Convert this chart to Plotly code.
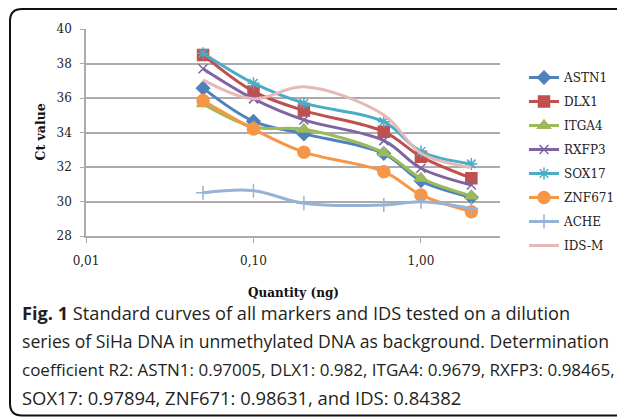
import plotly.graph_objects as go

quantity = [0.05, 0.1, 0.2, 0.6, 1.0, 2.0]
astn1 = [36.57, 34.65, 33.92, 32.78, 31.20, 30.25]
dlx1 = [38.50, 36.38, 35.27, 34.05, 32.60, 31.35]
itga4 = [35.66, 34.32, 34.19, 32.83, 31.35, 30.32]
rxfp3 = [37.70, 35.95, 34.73, 33.53, 31.93, 30.96]
sox17 = [38.60, 36.86, 35.70, 34.63, 32.90, 32.18]
znf671 = [35.85, 34.20, 32.86, 31.73, 30.38, 29.41]
ache = [30.51, 30.63, 29.90, 29.80, 29.99, 29.60]
ids_m = [37.05, 35.95, 36.65, 35.02, 32.80, 31.98]

series_names = ["ASTN1", "DLX1", "ITGA4", "RXFP3", "SOX17", "ZNF671", "ACHE", "IDS-M"]
series_values = [astn1, dlx1, itga4, rxfp3, sox17, znf671, ache, ids_m]

x_tick_vals = [0.01, 0.1, 1.0]
x_tick_text = ["0,01", "0,10", "1,00"]
y_tick_vals = [28, 30, 32, 34, 36, 38, 40]

caption_lines = [
    "<b>Fig. 1</b> Standard curves of all markers and IDS tested on a dilution",
    "series of SiHa DNA in unmethylated DNA as background. Determination",
    "coefficient R2: ASTN1: 0.97005, DLX1: 0.982, ITGA4: 0.9679, RXFP3: 0.98465,",
    "SOX17: 0.97894, ZNF671: 0.98631, and IDS: 0.84382",
]

styles = [
    dict(color="#4F81BD", symbol="diamond", size=10),
    dict(color="#C0504D", symbol="square", size=11),
    dict(color="#9BBB59", symbol="triangle-up", size=11),
    dict(color="#8064A2", symbol="x-thin", size=9),
    dict(color="#4BACC6", symbol="asterisk", size=10),
    dict(color="#F79646", symbol="circle", size=12),
    dict(color="#95B3D7", symbol="cross-thin", size=10),
    dict(color="#E6B9B8", symbol=None, size=0),
]

# the page places the figure at (8, 8); all layout targets below are page pixels
OFF = 8
W, H = 625, 417
ML = 86 - OFF
MT = 29 - OFF
MR = W - (500 - OFF)
MB = H - (236 - OFF)
PW, PH = W - ML - MR, H - MT - MB


def px_x(px):
    return (px - OFF - ML) / PW


def px_y(py):
    return (H - MB - (py - OFF)) / PH


fig = go.Figure()
for name, vals, st in zip(series_names, series_values, styles):
    if st["symbol"] is None:
        mode = "lines"
        marker = None
    else:
        mode = "lines+markers"
        marker = dict(symbol=st["symbol"], size=st["size"], color=st["color"],
                      line=dict(color=st["color"], width=1.5))
    fig.add_trace(go.Scatter(
        x=quantity, y=vals, name=name, mode=mode,
        line=dict(color=st["color"], width=3, shape="spline", smoothing=1.0),
        marker=marker, legendgroup=name,
    ))

serif = "DejaVu Serif"
grid_col = "#ababab"

fig.update_xaxes(
    type="log", range=[-2, 0.472], tickvals=x_tick_vals, ticktext=x_tick_text,
    showgrid=False, showline=True, linecolor=grid_col, linewidth=1.5,
    ticks="outside", ticklen=5, tickcolor=grid_col, tickwidth=1,
    tickfont=dict(family=serif, size=12, color="#222"), ticklabelstandoff=8,
    zeroline=False, automargin=False,
)
fig.update_yaxes(
    range=[28, 40], tickvals=y_tick_vals,
    showgrid=True, gridcolor=grid_col, gridwidth=1.5,
    showline=True, linecolor=grid_col, linewidth=1.5,
    ticks="outside", ticklen=4, tickcolor=grid_col, tickwidth=1,
    tickfont=dict(family=serif, size=12, color="#222"), ticklabelstandoff=6,
    zeroline=False, automargin=False,
)

annotations = [
    dict(text="<b>Ct value</b>", x=px_x(40), y=0.5, xref="paper", yref="paper",
         textangle=-90, showarrow=False, font=dict(family=serif, size=12.5, color="#111"),
         xanchor="center", yanchor="middle"),
    dict(text="<b>Quantity (ng)</b>", x=0.5, y=px_y(293), xref="paper", yref="paper",
         showarrow=False, font=dict(family=serif, size=12, color="#111"),
         xanchor="center", yanchor="middle"),
]
caption_y = [313, 341, 369, 397]
caption_size = [18.2, 17.6, 17.0, 18.4]
for line, cy, fs in zip(caption_lines, caption_y, caption_size):
    annotations.append(dict(
        text=line, x=px_x(20), y=px_y(cy), xref="paper", yref="paper",
        showarrow=False, xanchor="left", yanchor="middle",
        font=dict(family="Open Sans", size=fs, color="#231f20"),
    ))

# rounded frame (page pixels)
L, T, R, B, r = 10, 9, 680, 415.5, 12
path = (
    f"M {px_x(R)},{px_y(T)} L {px_x(L + r)},{px_y(T)} "
    f"Q {px_x(L)},{px_y(T)} {px_x(L)},{px_y(T + r)} "
    f"L {px_x(L)},{px_y(B - r)} "
    f"Q {px_x(L)},{px_y(B)} {px_x(L + r)},{px_y(B)} "
    f"L {px_x(R)},{px_y(B)}"
)
shapes = [dict(type="path", path=path, xref="paper", yref="paper",
               line=dict(color="#111", width=2), layer="above")]

fig.update_layout(
    width=W, height=H,
    margin=dict(l=ML, r=MR, t=MT, b=MB, autoexpand=False),
    paper_bgcolor="white", plot_bgcolor="white",
    showlegend=True,
    legend=dict(x=px_x(524), y=px_y(63), xanchor="left", yanchor="top",
                font=dict(family=serif, size=12, color="#222"),
                tracegroupgap=5, itemwidth=30, bgcolor="rgba(0,0,0,0)"),
    annotations=annotations, shapes=shapes,
)

fig.write_html("out.html")
